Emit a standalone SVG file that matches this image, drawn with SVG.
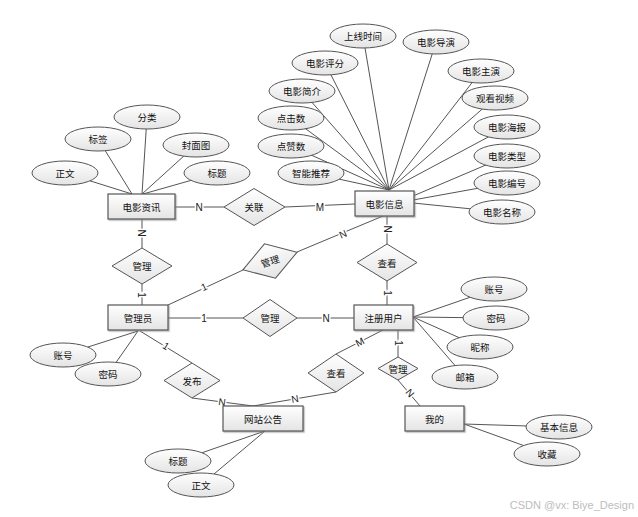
<svg xmlns="http://www.w3.org/2000/svg" width="638" height="517" viewBox="0 0 638 517">
<defs>
<linearGradient id="g" x1="0" y1="0" x2="0" y2="1">
<stop offset="0" stop-color="#ffffff"/>
<stop offset="1" stop-color="#e4e4e4"/>
</linearGradient>
<filter id="sh" x="-10%" y="-10%" width="130%" height="140%">
<feDropShadow dx="1.2" dy="1.2" stdDeviation="0.6" flood-color="#888" flood-opacity="0.6"/>
</filter>
<style>
.ln{stroke:#555;stroke-width:1;fill:none}
.ent rect{fill:url(#g);stroke:#555;stroke-width:1.2;filter:url(#sh)}
.att ellipse{fill:url(#g);stroke:#555;stroke-width:1}
.rel polygon{fill:url(#g);stroke:#555;stroke-width:1}
text{font-family:"Noto Sans CJK SC","Liberation Sans",sans-serif;font-size:9.5px;fill:#111;text-anchor:middle;dominant-baseline:central}
.c{font-family:"Liberation Sans",Arial,sans-serif;font-size:10px;fill:#222;stroke:#fff;stroke-width:3;paint-order:stroke}
.wm{font-family:"Liberation Sans",Arial,sans-serif;font-size:11px;fill:#bdbdbd;text-anchor:end}
</style>
</defs>
<rect width="638" height="517" fill="#fff"/>
<g id="connectors">
<!-- 电影信息 attributes -->
<line class="ln" x1="363" y1="36" x2="389" y2="190"/>
<line class="ln" x1="436" y1="42" x2="389" y2="190"/>
<line class="ln" x1="325" y1="63" x2="389" y2="190"/>
<line class="ln" x1="481" y1="71" x2="389" y2="190"/>
<line class="ln" x1="302" y1="91" x2="389" y2="190"/>
<line class="ln" x1="495" y1="98" x2="389" y2="190"/>
<line class="ln" x1="291" y1="118" x2="389" y2="190"/>
<line class="ln" x1="507" y1="127" x2="389" y2="190"/>
<line class="ln" x1="291" y1="146" x2="389" y2="190"/>
<line class="ln" x1="507" y1="156" x2="413" y2="196"/>
<line class="ln" x1="311" y1="173" x2="389" y2="190"/>
<line class="ln" x1="507" y1="183" x2="413" y2="200"/>
<line class="ln" x1="502" y1="212" x2="413" y2="203"/>
<!-- 电影资讯 attributes -->
<line class="ln" x1="147" y1="117" x2="142" y2="194"/>
<line class="ln" x1="98" y1="139" x2="132" y2="194"/>
<line class="ln" x1="196" y1="145" x2="142" y2="194"/>
<line class="ln" x1="65" y1="173" x2="132" y2="194"/>
<line class="ln" x1="217" y1="173" x2="143" y2="194"/>
<!-- 管理员 attributes -->
<line class="ln" x1="63" y1="355" x2="138" y2="331"/>
<line class="ln" x1="108" y1="374" x2="138" y2="331"/>
<!-- 网站公告 attributes -->
<line class="ln" x1="178" y1="461" x2="265" y2="431"/>
<line class="ln" x1="201" y1="485" x2="265" y2="431"/>
<!-- 注册用户 attributes -->
<line class="ln" x1="494" y1="289" x2="413" y2="317"/>
<line class="ln" x1="496" y1="318" x2="413" y2="317"/>
<line class="ln" x1="480" y1="347" x2="413" y2="317"/>
<line class="ln" x1="465" y1="377" x2="413" y2="317"/>
<!-- 我的 attributes -->
<line class="ln" x1="559" y1="427" x2="464" y2="424"/>
<line class="ln" x1="547" y1="454" x2="464" y2="424"/>
<!-- relationships -->
<line class="ln" x1="175" y1="207" x2="224" y2="207"/>
<line class="ln" x1="285" y1="207" x2="355" y2="204"/>
<line class="ln" x1="142" y1="219" x2="142" y2="248"/>
<line class="ln" x1="142" y1="284" x2="142" y2="305"/>
<line class="ln" x1="168" y1="305" x2="243" y2="270"/>
<line class="ln" x1="297" y1="252" x2="383" y2="216"/>
<line class="ln" x1="387" y1="216" x2="387" y2="244"/>
<line class="ln" x1="387" y1="281" x2="387" y2="305"/>
<line class="ln" x1="168" y1="318" x2="243" y2="318"/>
<line class="ln" x1="297" y1="318" x2="354" y2="318"/>
<line class="ln" x1="140" y1="331" x2="192" y2="363"/>
<line class="ln" x1="192" y1="398" x2="253" y2="406"/>
<line class="ln" x1="336" y1="354" x2="383" y2="330"/>
<line class="ln" x1="336" y1="392" x2="253" y2="406"/>
<line class="ln" x1="398" y1="330" x2="398" y2="357"/>
<line class="ln" x1="398" y1="380" x2="420" y2="406"/>
<!-- cardinalities -->
<text class="c" x="199" y="207">N</text>
<text class="c" x="320" y="207">M</text>
<text class="c" transform="translate(141,233) rotate(90)">N</text>
<text class="c" transform="translate(141,295) rotate(90)">1</text>
<text class="c" transform="translate(204,287) rotate(-25)">1</text>
<text class="c" transform="translate(343,234) rotate(-23)">N</text>
<text class="c" transform="translate(387,229) rotate(90)">N</text>
<text class="c" transform="translate(387,293) rotate(90)">1</text>
<text class="c" x="204" y="318">1</text>
<text class="c" x="326" y="318">N</text>
<text class="c" transform="translate(166,346) rotate(32)">1</text>
<text class="c" transform="translate(222,402) rotate(8)">N</text>
<text class="c" transform="translate(360,342) rotate(-27)">M</text>
<text class="c" transform="translate(295,399) rotate(-10)">N</text>
<text class="c" transform="translate(398,343) rotate(90)">1</text>
<text class="c" transform="translate(410,393) rotate(50)">N</text>
</g>
<!-- entities -->
<g id="e-zixun" class="ent"><rect x="108" y="194" width="67" height="25"/><text x="141.5" y="206.5">电影资讯</text></g>
<g id="e-xinxi" class="ent"><rect x="355" y="191" width="59" height="25"/><text x="384.5" y="203.5">电影信息</text></g>
<g id="e-admin" class="ent"><rect x="108" y="305" width="60" height="25"/><text x="138" y="317.5">管理员</text></g>
<g id="e-user" class="ent"><rect x="354" y="305" width="59" height="25"/><text x="383.5" y="317.5">注册用户</text></g>
<g id="e-notice" class="ent"><rect x="223" y="406" width="80" height="25"/><text x="263" y="418.5">网站公告</text></g>
<g id="e-mine" class="ent"><rect x="405" y="406" width="59" height="25"/><text x="434.5" y="418.5">我的</text></g>
<!-- relationships -->
<g id="r-guanlian" class="rel"><polygon points="224,207 254,188.5 285,207 254,225.5"/><text x="254" y="207">关联</text></g>
<g id="r-guanli1" class="rel"><polygon points="112,266 142,248 172,266 142,284"/><text x="142" y="266">管理</text></g>
<g id="r-guanli2" class="rel" transform="translate(270,261) rotate(-18)"><polygon points="-28.5,0 0,-18 28.5,0 0,18"/><text x="0" y="0">管理</text></g>
<g id="r-chakan1" class="rel"><polygon points="357,262.5 387,244 417,262.5 387,281"/><text x="387" y="262.5">查看</text></g>
<g id="r-guanli3" class="rel"><polygon points="243,318 270,299.5 297,318 270,336.5"/><text x="270" y="318">管理</text></g>
<g id="r-fabu" class="rel"><polygon points="164,380.5 192,363 220,380.5 192,398"/><text x="192" y="380.5">发布</text></g>
<g id="r-chakan2" class="rel"><polygon points="308,373 336,354 364,373 336,392"/><text x="336" y="373">查看</text></g>
<g id="r-guanli4" class="rel"><polygon points="378,368.5 398,357 418,368.5 398,380"/><text x="398" y="368.5">管理</text></g>
<!-- attributes -->
<g id="a-sxsj" class="att"><ellipse cx="363" cy="36" rx="33" ry="12"/><text x="363" y="36">上线时间</text></g>
<g id="a-dydy" class="att"><ellipse cx="436" cy="42" rx="33" ry="12"/><text x="436" y="42">电影导演</text></g>
<g id="a-dypf" class="att"><ellipse cx="325" cy="63" rx="33" ry="12"/><text x="325" y="63">电影评分</text></g>
<g id="a-dyzy" class="att"><ellipse cx="481" cy="71" rx="33" ry="12"/><text x="481" y="71">电影主演</text></g>
<g id="a-dyjj" class="att"><ellipse cx="302" cy="91" rx="33" ry="12"/><text x="302" y="91">电影简介</text></g>
<g id="a-gksp" class="att"><ellipse cx="495" cy="98" rx="33" ry="12"/><text x="495" y="98">观看视频</text></g>
<g id="a-djs" class="att"><ellipse cx="291" cy="118" rx="33" ry="12"/><text x="291" y="118">点击数</text></g>
<g id="a-dyhb" class="att"><ellipse cx="507" cy="127" rx="33" ry="12"/><text x="507" y="127">电影海报</text></g>
<g id="a-dzs" class="att"><ellipse cx="291" cy="146" rx="33" ry="12"/><text x="291" y="146">点赞数</text></g>
<g id="a-dylx" class="att"><ellipse cx="507" cy="156" rx="33" ry="12"/><text x="507" y="156">电影类型</text></g>
<g id="a-zntj" class="att"><ellipse cx="311" cy="173" rx="33" ry="12"/><text x="311" y="173">智能推荐</text></g>
<g id="a-dybh" class="att"><ellipse cx="507" cy="183" rx="33" ry="12"/><text x="507" y="183">电影编号</text></g>
<g id="a-dymc" class="att"><ellipse cx="502" cy="212" rx="33" ry="12"/><text x="502" y="212">电影名称</text></g>
<g id="a-fl" class="att"><ellipse cx="147" cy="117" rx="33" ry="12"/><text x="147" y="117">分类</text></g>
<g id="a-bq" class="att"><ellipse cx="98" cy="139" rx="33" ry="12"/><text x="98" y="139">标签</text></g>
<g id="a-fmt" class="att"><ellipse cx="196" cy="145" rx="33" ry="12"/><text x="196" y="145">封面图</text></g>
<g id="a-zw1" class="att"><ellipse cx="65" cy="173" rx="33" ry="12"/><text x="65" y="173">正文</text></g>
<g id="a-bt1" class="att"><ellipse cx="217" cy="173" rx="33" ry="12"/><text x="217" y="173">标题</text></g>
<g id="a-zh1" class="att"><ellipse cx="63" cy="355" rx="33" ry="12"/><text x="63" y="355">账号</text></g>
<g id="a-mm1" class="att"><ellipse cx="108" cy="374" rx="33" ry="12"/><text x="108" y="374">密码</text></g>
<g id="a-bt2" class="att"><ellipse cx="178" cy="461" rx="33" ry="12"/><text x="178" y="461">标题</text></g>
<g id="a-zw2" class="att"><ellipse cx="201" cy="485" rx="33" ry="12"/><text x="201" y="485">正文</text></g>
<g id="a-zh2" class="att"><ellipse cx="494" cy="289" rx="33" ry="12"/><text x="494" y="289">账号</text></g>
<g id="a-mm2" class="att"><ellipse cx="496" cy="318" rx="33" ry="12"/><text x="496" y="318">密码</text></g>
<g id="a-nc" class="att"><ellipse cx="480" cy="347" rx="33" ry="12"/><text x="480" y="347">昵称</text></g>
<g id="a-yx" class="att"><ellipse cx="465" cy="377" rx="33" ry="12"/><text x="465" y="377">邮箱</text></g>
<g id="a-jbxx" class="att"><ellipse cx="559" cy="427" rx="33" ry="12"/><text x="559" y="427">基本信息</text></g>
<g id="a-sc" class="att"><ellipse cx="547" cy="454" rx="33" ry="12"/><text x="547" y="454">收藏</text></g>
<text class="wm" x="634" y="505">CSDN @vx: Biye_Design</text>
</svg>
